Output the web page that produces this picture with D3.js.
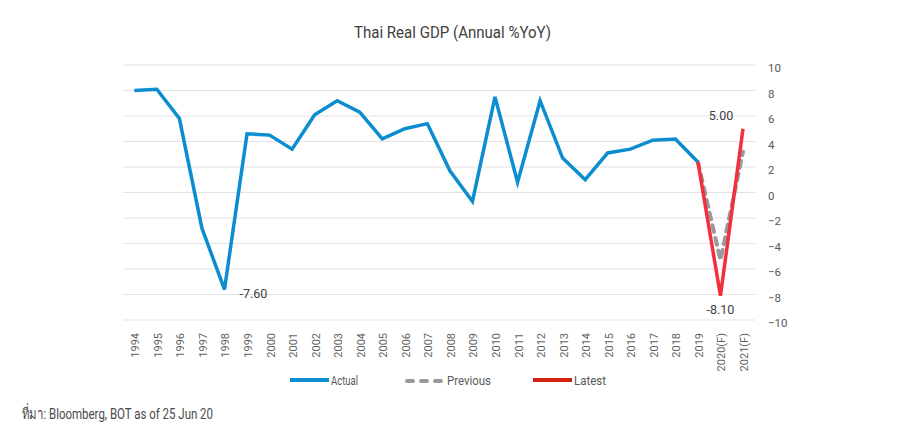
<!DOCTYPE html>
<html>
<head>
<meta charset="utf-8">
<script src="https://cdn.jsdelivr.net/npm/d3@7"></script>
<style>
  html, body { margin: 0; padding: 0; background: #fff; }
  svg { display: block; }
  text { font-family: Roboto, "Noto Sans", sans-serif; }
</style>
</head>
<body>
<svg id="chart" width="904" height="444"></svg>
<script>
const years = ["1994","1995","1996","1997","1998","1999","2000","2001","2002","2003","2004","2005","2006","2007","2008","2009","2010","2011","2012","2013","2014","2015","2016","2017","2018","2019","2020(F)","2021(F)"];
const actual = [8.0, 8.1, 5.8, -2.8, -7.6, 4.6, 4.5, 3.4, 6.1, 7.2, 6.3, 4.2, 5.0, 5.4, 1.7, -0.7, 7.5, 0.8, 7.2, 2.7, 1.0, 3.1, 3.4, 4.1, 4.2, 2.4];
const previousYears = ["2019","2020(F)","2021(F)"];
const previous = [2.4, -5.3, 3.2];
const latestYears = ["2019","2020(F)","2021(F)"];
const latest = [2.4, -8.1, 5.0];
const yTicks = [-10, -8, -6, -4, -2, 0, 2, 4, 6, 8, 10];
const annotations = [
  {year: "1998", value: -7.6, label: "-7.60"},
  {year: "2021(F)", value: 5.0, label: "5.00"},
  {year: "2020(F)", value: -8.1, label: "-8.10"}
];
const legendItems = ["Actual", "Previous", "Latest"];

const svg = d3.select("#chart");
const x = d3.scalePoint().domain(years).range([134.3, 743]);
const y = d3.scaleLinear().domain([-10, 10]).range([320, 65]);
const gridX0 = 123, gridX1 = 755;

svg.append("text").attr("x", 354).attr("y", 38)
  .attr("font-size", 16).attr("fill", "#404040")
  .attr("textLength", 197).attr("lengthAdjust", "spacingAndGlyphs")
  .text("Thai Real GDP (Annual %YoY)");

// gridlines
svg.append("g").selectAll("line").data(yTicks).join("line")
  .attr("x1", gridX0).attr("x2", gridX1)
  .attr("y1", d => y(d)).attr("y2", d => y(d))
  .attr("stroke", "#e2e2e2").attr("stroke-width", 1);

// right axis
const yAxis = d3.axisRight(y).tickValues(yTicks).tickSize(0).tickPadding(0).tickFormat(d3.format("d"));
const ya = svg.append("g").attr("transform", `translate(768,3)`).call(yAxis);
ya.select(".domain").remove();
ya.selectAll("text").attr("font-size", 11.5).attr("fill", "#595959")
  .attr("font-family", 'Roboto, sans-serif');

// bottom axis labels rotated
const xa = svg.append("g").attr("transform", "translate(0,333)");
xa.selectAll("text").data(years).join("text")
  .attr("transform", d => `translate(${x(d) + 5},0) rotate(-90)`)
  .attr("text-anchor", "end").attr("font-size", 11).attr("fill", "#5f5f5f")
  .text(d => d);

const line = d3.line().x(d => x(d[0])).y(d => y(d[1]));

svg.append("path").datum(d3.zip(previousYears, previous))
  .attr("d", line).attr("fill", "none").attr("stroke", "#9a9a9a")
  .attr("stroke-width", 4).attr("stroke-dasharray", "7,6").attr("stroke-linecap", "round");

svg.append("path").datum(d3.zip(years.slice(0, actual.length), actual))
  .attr("d", line).attr("fill", "none").attr("stroke", "#0b8dcf")
  .attr("stroke-width", 3.5).attr("stroke-linejoin", "miter");

svg.append("path").datum(d3.zip(latestYears, latest))
  .attr("d", line).attr("fill", "none").attr("stroke", "#f1303b")
  .attr("stroke-width", 3.5);

// annotations
const ann = [
  {dx: 15, dy: 9, anchor: "start"},
  {dx: -22, dy: -9, anchor: "middle"},
  {dx: 0, dy: 18, anchor: "middle"}
];
svg.append("g").selectAll("text").data(annotations).join("text")
  .attr("x", (d, i) => x(d.year) + ann[i].dx)
  .attr("y", (d, i) => y(d.value) + ann[i].dy)
  .attr("text-anchor", (d, i) => ann[i].anchor)
  .attr("font-size", 12.5).attr("fill", "#404040")
  .text(d => d.label);

// legend
const lg = svg.append("g");
const lx = [290, 405, 533];
const lcol = ["#0b8dcf", "#9a9a9a", "#d42212"];
const lw = [27, 44, 32];
legendItems.forEach((name, i) => {
  const g = lg.append("g");
  if (i === 1) {
    g.append("line").attr("x1", lx[i] + 2).attr("x2", lx[i] + 40).attr("y1", 381).attr("y2", 381)
      .attr("stroke", lcol[i]).attr("stroke-width", 4).attr("stroke-linecap", "round").attr("stroke-dasharray", "6,8");
  } else {
    g.append("line").attr("x1", lx[i]).attr("x2", lx[i] + 39).attr("y1", 380).attr("y2", 380)
      .attr("stroke", lcol[i]).attr("stroke-width", 4);
  }
  g.append("text").attr("x", lx[i] + (i === 1 ? 42 : 41)).attr("y", 385).attr("font-size", 13)
    .attr("textLength", lw[i]).attr("lengthAdjust", "spacingAndGlyphs")
    .attr("fill", "#595959").text(name);
});

svg.append("text").attr("x", 22).attr("y", 419).attr("font-size", 15.5).attr("fill", "#4a4a4a")
  .attr("textLength", 191).attr("lengthAdjust", "spacingAndGlyphs")
  .text("ที่มา: Bloomberg, BOT as of 25 Jun 20");
</script>
</body>
</html>
